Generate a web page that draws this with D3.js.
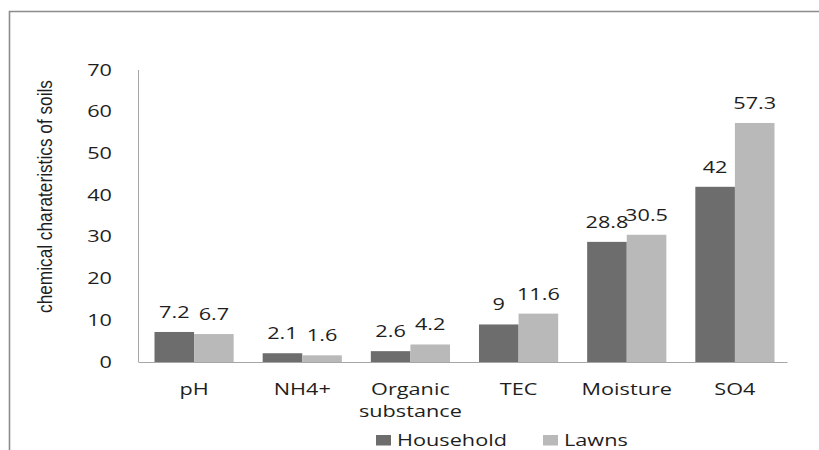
<!DOCTYPE html>
<html><head><meta charset="utf-8">
<script src="https://cdn.jsdelivr.net/npm/d3@7"></script>
<style>body{margin:0;background:#fff}svg{display:block}</style>
</head><body>
<svg id="c" width="819" height="450"></svg>
<script>
const categories = [["pH"],["NH4+"],["Organic","substance"],["TEC"],["Moisture"],["SO4"]];
const household = [7.2, 2.1, 2.6, 9, 28.8, 42];
const lawns = [6.7, 1.6, 4.2, 11.6, 30.5, 57.3];
const seriesNames = ["Household","Lawns"];
const colors = ["#6d6d6d","#b9b9b9"];
const yTicks = [0,10,20,30,40,50,60,70];

const svg = d3.select("#c");
const font = "Open Sans, Noto Sans, sans-serif";
const fs = 15.5;
const txtColor = "#1e1e1e";

// measure to get horizontal stretch factor (reference text is horizontally stretched)
const probe = svg.append("text").attr("font-family",font).attr("font-size",fs).text("Household");
const sx = 110 / probe.node().getComputedTextLength();
probe.remove();

function stretchedText(parent, xPos, yPos, str, anchor){
  return parent.append("text")
    .attr("transform",`translate(${xPos},${yPos}) scale(${sx},1)`)
    .attr("text-anchor",anchor||"middle")
    .attr("font-family",font).attr("font-size",fs).attr("fill",txtColor).text(str);
}

// frame
svg.append("path").attr("d","M9.5,450 V11.5 H819").attr("fill","none").attr("stroke","#8c8c8c").attr("stroke-width",1.6);

const x0 = 138.5, x1 = 787.5, yTop = 70, yBot = 362;
const x = d3.scaleBand().domain(d3.range(categories.length)).range([x0+1.5,x1+1.5]).paddingInner(0.268).paddingOuter(0.134);
const xs = d3.scaleBand().domain([0,1]).range([0,x.bandwidth()]);
const y = d3.scaleLinear().domain([0,70]).range([yBot,yTop]);

const data = categories.map((c,i)=>[household[i], lawns[i]]);

const g = svg.append("g");
data.forEach((vals,i)=>{
  vals.forEach((v,s)=>{
    const bx = x(i)+xs(s);
    g.append("rect").attr("x",bx).attr("y",y(v)).attr("width",xs.bandwidth()).attr("height",y(0)-y(v)).attr("fill",colors[s]);
  });
});
data.forEach((vals,i)=>{
  vals.forEach((v,s)=>{
    const bx = x(i)+xs(s);
    stretchedText(svg, bx+xs.bandwidth()/2, y(v)-14, v);
  });
});

// axes lines
svg.append("line").attr("x1",x0).attr("x2",x0).attr("y1",yTop).attr("y2",yBot).attr("stroke","#a6a6a6");
svg.append("line").attr("x1",x0).attr("x2",x1).attr("y1",yBot+0.5).attr("y2",yBot+0.5).attr("stroke","#a6a6a6");

// y tick labels
yTicks.forEach(d=>stretchedText(svg, 112, y(d)+5.5, d, "end"));

// category labels
categories.forEach((lines,i)=>{
  lines.forEach((l,k)=>stretchedText(svg, x(i)+x.bandwidth()/2, 395+k*22, l));
});

// y title
svg.append("text").attr("transform","translate(52,196.5) rotate(-90)").attr("text-anchor","middle")
  .attr("font-family","Liberation Sans Narrow, Arial Narrow, Liberation Sans, sans-serif").attr("font-size",20)
  .attr("textLength",233).attr("lengthAdjust","spacingAndGlyphs").attr("fill",txtColor).text("chemical charateristics of soils");

// legend
const legX = [376, 543];
seriesNames.forEach((n,s)=>{
  svg.append("rect").attr("x",legX[s]).attr("y",435).attr("width",15).attr("height",10.5).attr("fill",colors[s]);
  stretchedText(svg, legX[s]+21, 445.5, n, "start");
});
</script>
</body></html>
